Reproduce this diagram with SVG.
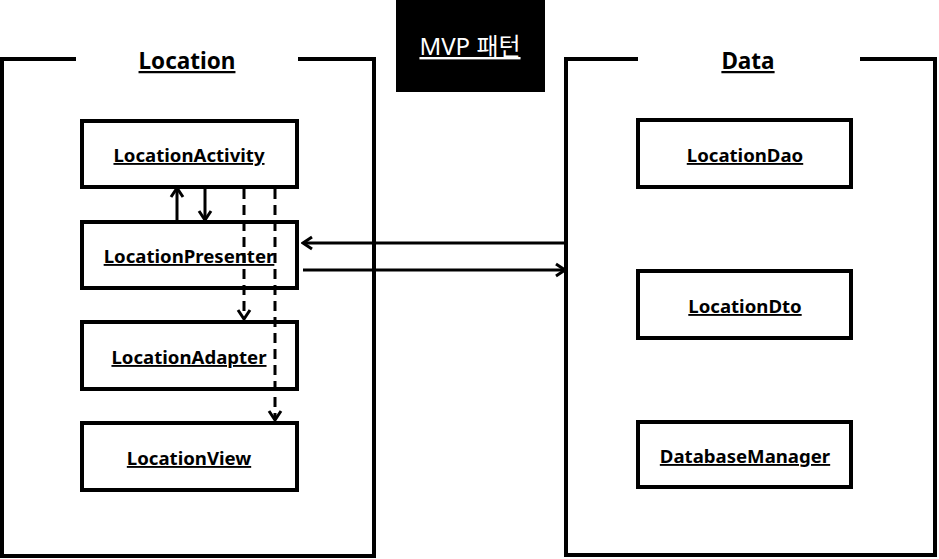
<svg xmlns="http://www.w3.org/2000/svg" width="939" height="559" viewBox="0 0 939 559">
  <defs>
    <style>
      .frame { fill: none; stroke: #000; stroke-width: 4; stroke-linejoin: miter; }
      .box { fill: #fff; stroke: #000; stroke-width: 4; }
      .lbl { font-family: "Noto Sans", "Liberation Sans", sans-serif; font-weight: bold; font-size: 18.6px; fill: #000; text-anchor: middle; text-decoration: underline; }
      .title { font-family: "Noto Sans", "Liberation Sans", sans-serif; font-weight: bold; font-size: 22.5px; fill: #000; text-anchor: middle; text-decoration: underline; }
      .conn { fill: none; stroke: #000; stroke-width: 3; }
      .dash { stroke-dasharray: 10 6; }
    </style>
    <marker id="arrow" viewBox="0 0 14 16" refX="12" refY="8" markerWidth="14" markerHeight="16" markerUnits="userSpaceOnUse" orient="auto">
      <path d="M3,2 L12,8 L3,14" fill="none" stroke="#000" stroke-width="3"/>
    </marker>
  </defs>
  <rect width="939" height="559" fill="#fff"/>

  <g id="mvp-title">
    <rect x="396" y="0" width="149" height="92" fill="#000"/>
    <text x="470" y="55" font-family="'Noto Sans', 'Noto Sans CJK KR', sans-serif" font-size="24" fill="#fff" text-anchor="middle" text-decoration="underline">MVP 패턴</text>
  </g>

  <g id="location-group">
    <path class="frame" d="M76,59 H2 V556 H374 V59 H298"/>
    <text class="title" x="187" y="69">Location</text>
  </g>

  <g id="data-group">
    <path class="frame" d="M638,59 H566 V555 H935 V59 H860"/>
    <text class="title" x="748" y="69">Data</text>
  </g>

  <g id="LocationActivity">
    <rect class="box" x="82" y="121" width="215" height="66"/>
    <text class="lbl" x="189" y="162">LocationActivity</text>
  </g>
  <g id="LocationPresenter">
    <rect class="box" x="82" y="222" width="215" height="66"/>
    <text class="lbl" x="189" y="263">LocationPresenter</text>
  </g>
  <g id="LocationAdapter">
    <rect class="box" x="82" y="322" width="215" height="67"/>
    <text class="lbl" x="189" y="364">LocationAdapter</text>
  </g>
  <g id="LocationView">
    <rect class="box" x="82" y="423" width="215" height="67"/>
    <text class="lbl" x="189" y="465">LocationView</text>
  </g>

  <g id="LocationDao">
    <rect class="box" x="638" y="120" width="213" height="67"/>
    <text class="lbl" x="745" y="162">LocationDao</text>
  </g>
  <g id="LocationDto">
    <rect class="box" x="638" y="271" width="213" height="67"/>
    <text class="lbl" x="745" y="313">LocationDto</text>
  </g>
  <g id="DatabaseManager">
    <rect class="box" x="638" y="422" width="213" height="65"/>
    <text class="lbl" x="745" y="463">DatabaseManager</text>
  </g>

  <g id="connectors">
    <line class="conn" x1="177" y1="222" x2="177" y2="188" marker-end="url(#arrow)"/>
    <line class="conn" x1="205" y1="188" x2="205" y2="220" marker-end="url(#arrow)"/>
    <line class="conn dash" x1="244" y1="189" x2="244" y2="319" marker-end="url(#arrow)"/>
    <line class="conn dash" x1="275" y1="189" x2="275" y2="420" marker-end="url(#arrow)"/>
    <line class="conn" x1="564" y1="243" x2="303" y2="243" marker-end="url(#arrow)"/>
    <line class="conn" x1="303" y1="270" x2="565" y2="270" marker-end="url(#arrow)"/>
  </g>
</svg>
